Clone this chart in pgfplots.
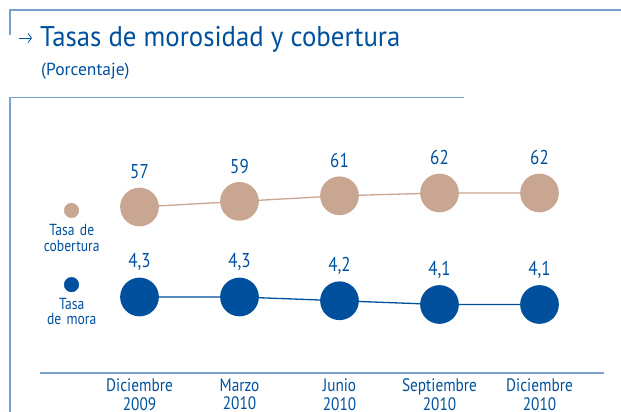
\documentclass[border=0pt]{standalone}
\usepackage{fontspec}
\setmainfont[FakeStretch=0.85]{PT Sans}
\newfontfamily\titlefont[FakeStretch=0.94]{PT Sans}
\newfontfamily\subfont{PT Sans}
\usepackage{pgfplots}
\pgfplotsset{compat=1.18}
\usepackage{pgfplotstable}
\usetikzlibrary{arrows.meta}
\definecolor{bblue}{RGB}{0,80,158}
\definecolor{btan}{RGB}{201,166,145}
\definecolor{bline}{RGB}{122,160,204}

\pgfplotstableread{
x y
0 57
1 59
2 61
3 62
4 62
}\cobertura
\pgfplotstableread{
x y
0 4.3
1 4.3
2 4.2
3 4.1
4 4.1
}\mora

\pgfplotsset{
  common/.style={
    at={(40pt,-373pt)}, anchor=south west, scale only axis,
    width=564pt, height=263pt,
    xmin=-0.995, xmax=4.645,
    clip=false,
    /pgf/number format/assume math mode=true,
    every node near coord/.append style={anchor=center, inner sep=0pt, yshift=35pt, text=bblue, font=\fontsize{20}{22}\selectfont},
    legend style={draw=none, fill=none, anchor=center, column sep=0pt, inner sep=0pt,
      cells={anchor=center},
      nodes={inner sep=0pt, text width=70pt, align=center, text=bblue, font=\fontsize{16}{15.5}\selectfont}},
  }
}

\begin{document}
\begin{tikzpicture}
\path[use as bounding box] (0,0) rectangle (621pt,-412pt);
\draw[bline, line width=1.5pt] (10pt,-35pt) -- (10pt,-10pt) -- (621pt,-10pt);
\draw[bline, line width=1.5pt] (10pt,-412pt) -- (10pt,-97.5pt) -- (464pt,-97.5pt);
\draw[bblue, line width=0.8pt, -{Straight Barb[length=3.5pt,width=9pt]}] (19pt,-38pt) -- (32pt,-38pt);
\node[anchor=base west, inner sep=0pt, text=bblue, font=\titlefont\fontsize{28.5}{30}\selectfont] at (40pt,-46.7pt) {Tasas de morosidad y cobertura};
\node[anchor=base west, inner sep=0pt, text=bblue, font=\subfont\fontsize{17.5}{19}\selectfont] at (41pt,-75.7pt) {(Porcentaje)};

\begin{axis}[common,
  ymin=2.273, ymax=9.287,
  axis x line=bottom, axis y line=none,
  x axis line style={bline, line width=1.6pt, -},
  xtick={0,...,4},
  xticklabels={{Diciembre\\2009},{Marzo\\2010},{Junio\\2010},{Septiembre\\2010},{Diciembre\\2010}},
  major tick length=0pt,
  xticklabel style={align=center, anchor=center, yshift=-21.5pt, inner sep=0pt, text=bblue, font=\fontsize{18}{18.5}\selectfont},
  nodes near coords={\pgfmathprintnumber[fixed, fixed zerofill, precision=1, use comma]{\pgfplotspointmeta}},
  legend style={at={(axis description cs:0.0559,0.260)}},
]
\addplot[bblue, line width=1.3pt, mark=*, mark size=18.7pt, mark options={fill=bblue, draw=none}, forget plot] table {\mora};
\addlegendimage{legend image code/.code={\path (0pt,0pt); \fill[bblue, overlay] (35pt,20pt) circle (7.3pt);}}
\addlegendentry{Tasa\\de mora}
\end{axis}

\begin{axis}[common,
  ymin=-2.29, ymax=91.64,
  hide axis,
  nodes near coords={\pgfmathprintnumber[fixed, precision=0]{\pgfplotspointmeta}},
  legend style={at={(axis description cs:0.0559,0.540)}},
]
\addplot[btan, line width=1.3pt, mark=*, mark size=18.7pt, mark options={fill=btan, draw=none}, forget plot] table {\cobertura};
\addlegendimage{legend image code/.code={\path (0pt,0pt); \fill[btan, overlay] (35pt,20.5pt) circle (7.3pt);}}
\addlegendentry{Tasa de\\cobertura}
\end{axis}
\end{tikzpicture}
\end{document}
